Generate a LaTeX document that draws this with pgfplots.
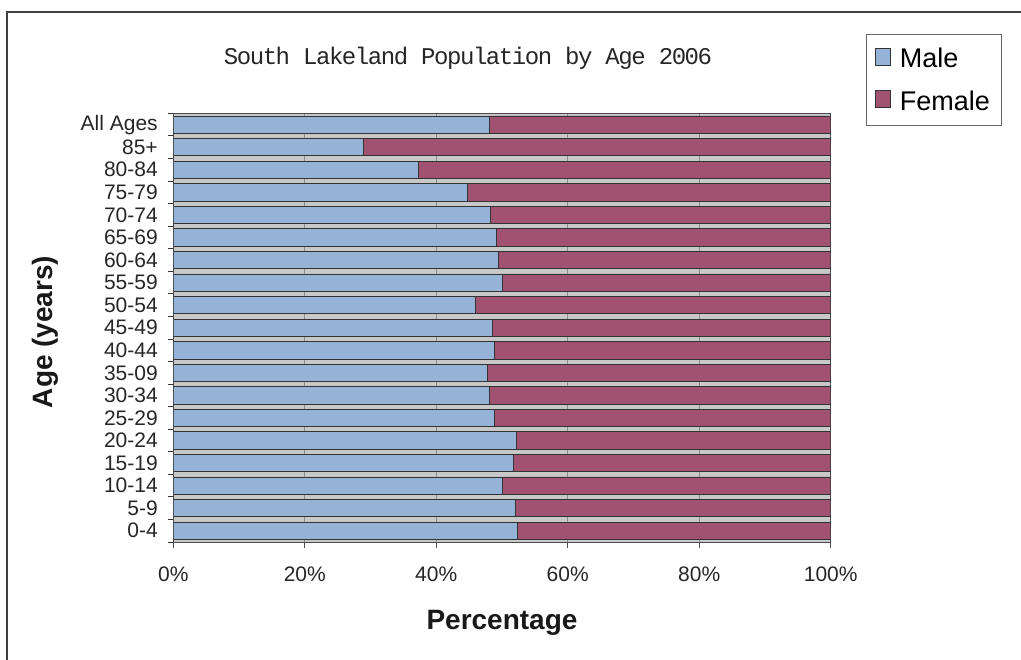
\documentclass[border=0pt]{standalone}
\usepackage{fontspec}
\setmainfont{Liberation Sans}
\newfontfamily\titlefont[LetterSpace=-6]{Liberation Mono}
\usepackage{pgfplots}
\usepackage{pgfplotstable}
\pgfplotsset{compat=1.18}
\definecolor{male}{RGB}{149,179,215}
\definecolor{female}{RGB}{160,82,112}
\definecolor{plotbg}{RGB}{200,200,200}

\pgfplotstableread{
idx male female
0 52.3 47.7
1 52.0 48.0
2 50.0 50.0
3 51.7 48.3
4 52.2 47.8
5 48.8 51.2
6 48.0 52.0
7 47.7 52.3
8 48.8 51.2
9 48.6 51.4
10 46.0 54.0
11 50.0 50.0
12 49.5 50.5
13 49.2 50.8
14 48.3 51.7
15 44.8 55.2
16 37.3 62.7
17 28.9 71.1
18 48.0 52.0
}\agedata

\begin{document}
\begin{tikzpicture}[x=1pt,y=1pt]
\useasboundingbox (0,0) rectangle (1021,-660);
\draw[line width=2pt, black!75] (7,-660) -- (7,-12) -- (1021,-12);
\begin{axis}[
  at={(173.3pt,-542pt)}, anchor=south west,
  scale only axis, width=657.4pt, height=428.7pt,
  xbar stacked, bar width=17.3pt,
  xmin=0, xmax=100, ymin=-0.5, ymax=18.5,
  axis background/.style={fill=plotbg},
  axis line style={black!70, line width=0.8pt},
  xtick={0,20,40,60,80,100},
  xticklabels={0\%,20\%,40\%,60\%,80\%,100\%},
  ytick={0,...,18},
  yticklabels={0-4,5-9,10-14,15-19,20-24,25-29,30-34,35-09,40-44,45-49,50-54,55-59,60-64,65-69,70-74,75-79,80-84,85+,All Ages},
  tick pos=left, tick align=outside, major tick length=6pt,
  y tick style={draw=none},
  x tick style={black!70, line width=0.8pt},
  extra y ticks={-0.5,0.5,...,18.5},
  extra y tick labels={},
  extra y tick style={y tick style={draw=black!80, line width=0.8pt}, major tick length=5pt, ymajorgrids=false},
  xmajorgrids, major grid style={black!45, line width=1.2pt},
  ticklabel style={font=\fontsize{21}{24}\selectfont, text=black!85},
  xticklabel style={yshift=-15pt},
  yticklabel style={xshift=-6pt},
  xlabel={Percentage},
  ylabel={Age (years)},
  label style={font=\fontsize{28}{32}\selectfont\bfseries, text=black!90},
  xlabel style={at={(axis description cs:0.5,-0.188)}, anchor=center},
  ylabel style={at={(axis description cs:-0.195,0.49)}, anchor=center},
  title={South Lakeland Population by Age 2006},
  title style={at={(axis description cs:0.4483,1.115)}, anchor=center, font=\titlefont\fontsize{24}{27}\selectfont, text=black!85},
  legend style={at={(axis description cs:1.0537,1.185)}, anchor=north west, draw=black!60, line width=0.8pt, fill=white, font=\fontsize{27}{31}\selectfont, row sep=17pt, inner xsep=9pt, inner ysep=12pt, cells={anchor=west}},
  legend image code/.code={\draw[#1, draw=black!80, line width=1pt] (0pt,-7pt) rectangle (15pt,10pt); \path[draw=none, fill=none] (0pt,0pt) -- (22pt,0pt);},
]
\addplot[fill=male, draw=black!80, line width=0.7pt] table[x=male, y=idx] {\agedata};
\addplot[fill=female, draw=black!80, line width=0.7pt] table[x=female, y=idx] {\agedata};
\legend{Male, Female}
\end{axis}
\end{tikzpicture}
\end{document}
